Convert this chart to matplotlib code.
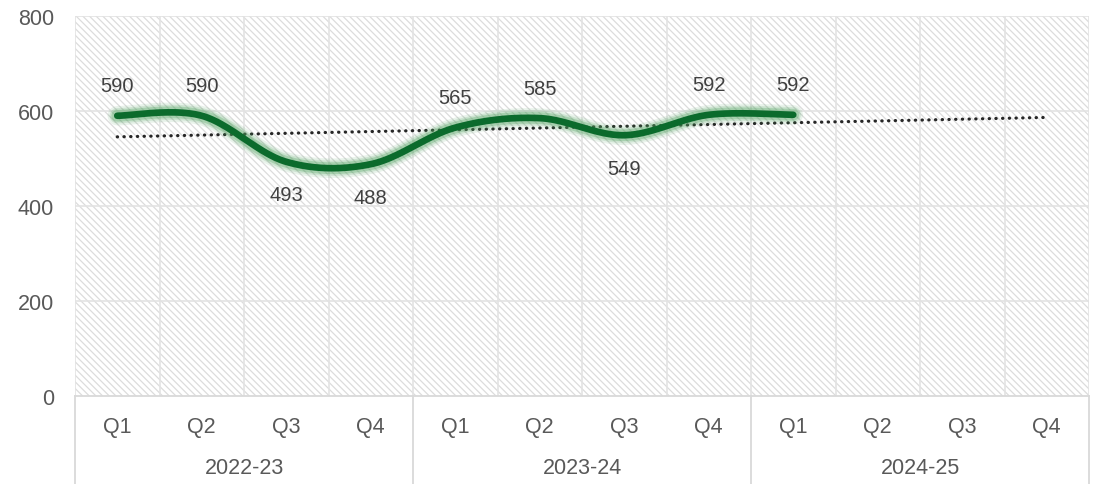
import numpy as np
import matplotlib.pyplot as plt
from matplotlib.patches import Rectangle

# datos
quarters = ['Q1', 'Q2', 'Q3', 'Q4'] * 3
years = ['2022-23', '2023-24', '2024-25']
values = [590, 590, 493, 488, 565, 585, 549, 592, 592]

plt.rcParams['font.family'] = ['Liberation Sans', 'DejaVu Sans']
plt.rcParams['hatch.linewidth'] = 0.9
txt = '#595959'
grid = '#e3e3e3'


def smooth(x, y, n=40):
    # curva suavizada tipo bezier (como excel)
    x = np.asarray(x, float)
    y = np.asarray(y, float)
    px = np.concatenate([[x[0]], x, [x[-1]]])
    py = np.concatenate([[y[0]], y, [y[-1]]])
    xs, ys = [], []
    t = np.linspace(0, 1, n)
    for i in range(1, len(x)):
        p0 = np.array([px[i], py[i]])
        p3 = np.array([px[i + 1], py[i + 1]])
        c1 = p0 + (p3 - np.array([px[i - 1], py[i - 1]])) / 6
        c2 = p3 - (np.array([px[i + 2], py[i + 2]]) - p0) / 6
        b = ((1 - t) ** 3)[:, None] * p0 + (3 * (1 - t) ** 2 * t)[:, None] * c1 \
            + (3 * (1 - t) * t ** 2)[:, None] * c2 + (t ** 3)[:, None] * p3
        xs.extend(b[:, 0])
        ys.extend(b[:, 1])
    return np.array(xs), np.array(ys)


fig = plt.figure(figsize=(10.94, 4.85), dpi=100)
ax = fig.add_axes([75 / 1094, 1 - 397 / 485, 1014 / 1094, 380 / 485])
ax.set_xlim(0.5, 12.5)
ax.set_ylim(0, 800)

# fondo rayado
ax.add_patch(Rectangle((0, 0), 1, 1, transform=ax.transAxes, facecolor='white',
                       edgecolor='#dcdcdc', linewidth=0, hatch='\\' * 5, zorder=0))

for v in [200, 400, 600, 800]:
    ax.axhline(v, color=grid, lw=1.2, zorder=1)
for k in range(12):
    ax.axvline(k + 1.5, color=grid, lw=1.2, zorder=1)
ax.axvline(0.5, color=grid, lw=1.2, zorder=1)

# linea de tendencia
x = np.arange(1, len(values) + 1)
m, b = np.polyfit(x, values, 1)
xt = np.array([1, 12])
ax.plot(xt, m * xt + b, color='#262626', lw=2.3, ls=(0, (0.1, 2.0)),
        dash_capstyle='round', zorder=3)

# linea suavizada con brillo
sx, sy = smooth(x, values)
for w, a in [(14, 0.12), (11, 0.18), (8.5, 0.3)]:
    ax.plot(sx, sy, color='#4fa25f', lw=w, alpha=a, solid_capstyle='round', zorder=4)
ax.plot(sx, sy, color='#0b6b2c', lw=4.8, solid_capstyle='round', zorder=5)

# etiquetas
below = [False, False, True, True, False, False, True, False, False]
for xi, v, bl in zip(x, values, below):
    off = -33 if bl else 30
    ax.annotate(str(v), (xi, v), xytext=(0, off), textcoords='offset pixels',
                ha='center', va='center', fontsize=14.5, color='#404040', zorder=6)

ax.set_yticks([0, 200, 400, 600, 800])
ax.tick_params(axis='y', length=0, labelsize=15.5, labelcolor=txt, pad=15)
ax.set_xticks([])
for s in ['top', 'right', 'left']:
    ax.spines[s].set_visible(False)
ax.spines['bottom'].set_color('#d9d9d9')
ax.spines['bottom'].set_linewidth(1.3)

# eje de categorias
for i, q in enumerate(quarters):
    ax.text(i + 1, -64, q, ha='center', va='center', fontsize=15.5, color=txt,
            clip_on=False)
for j, yr in enumerate(years):
    ax.text(4 * j + 2.5, -151, yr, ha='center', va='center', fontsize=15.5, color=txt,
            clip_on=False)
for k in range(4):
    ax.plot([4 * k + 0.5] * 2, [0, -185], color='#d9d9d9', lw=1.3, clip_on=False)

fig.savefig('out.png', dpi=100)
